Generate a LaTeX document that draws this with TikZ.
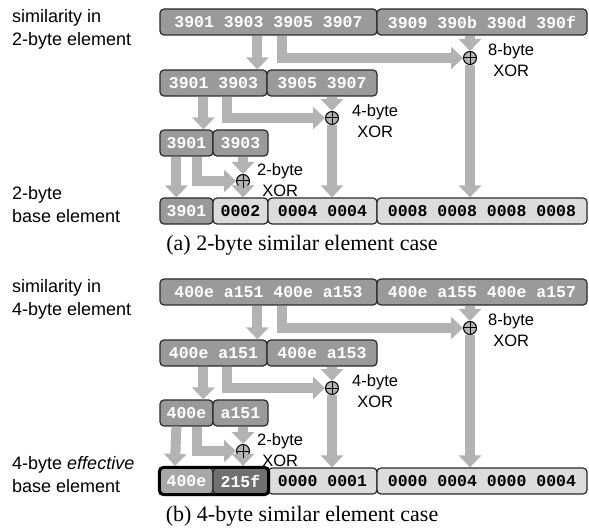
\documentclass[tikz,border=0pt]{standalone}
\usepackage{fontspec}
\setmainfont{Liberation Sans}
\newfontfamily\capfont{Liberation Serif}
\newfontfamily\boxfont{Liberation Mono}
\usetikzlibrary{arrows.meta,calc,fit}
\definecolor{boxgray}{HTML}{9A9A9A}
\definecolor{arrgray}{HTML}{B3B3B3}
\definecolor{lightbox}{HTML}{DCDCDC}
\definecolor{midbox}{HTML}{A8A8A8}
\definecolor{darkbox}{HTML}{707070}
\definecolor{edge}{HTML}{2A2A2A}
\tikzset{
 cell/.style={draw=edge, line width=1.2pt, rounded corners=4pt, inner sep=0pt, minimum height=26pt, font=\boxfont\bfseries\fontsize{16.5}{16.5}\selectfont},
 graycell/.style={cell, fill=boxgray, text=white},
 litecell/.style={cell, fill=lightbox, text=black},
 arr/.style={draw=arrgray, line width=10pt, -{Triangle[width=22pt,length=12pt]}, line join=miter},
 xorc/.style={circle, draw=black, fill=arrgray, line width=1pt, minimum size=13pt, inner sep=0pt},
 lbl/.style={align=left, anchor=west, font=\fontsize{18}{23}\selectfont, inner sep=0pt},
 xorlbl/.style={align=center, anchor=west, font=\fontsize{16.5}{21}\selectfont, inner sep=0pt},
 captext/.style={font=\capfont\fontsize{22}{22}\selectfont, inner sep=0pt}
}
\newcommand{\xcross}[1]{\draw[line width=1pt] (#1.north) -- (#1.south) (#1.west) -- (#1.east);}
\begin{document}
\begin{tikzpicture}[x=1pt,y=-1pt]
\useasboundingbox (0,0) rectangle (589,529);
% ---------- panel (a) ----------
\node[lbl] (la1) at (12,29.5) {similarity in\\2-byte element};
\node[lbl] (la2) at (12,205) {2-byte\\base element};
\node[graycell, minimum width=217pt] (a1L) at (268.5,22) {3901 3903 3905 3907};
\node[graycell, minimum width=210pt] (a1R) at (482,22) {3909 390b 390d 390f};
\node[graycell, minimum width=107pt] (a2L) at (213.5,83) {3901 3903};
\node[graycell, minimum width=110pt] (a2R) at (322,83) {3905 3907};
\node[graycell, minimum width=53pt] (a3L) at (186.5,143) {3901};
\node[graycell, minimum width=55pt] (a3R) at (240.5,143) {3903};
\node[graycell, minimum width=53pt] (a4A) at (186.5,211) {3901};
\node[litecell, minimum width=55pt] (a4B) at (240.5,211) {0002};
\node[litecell, minimum width=109pt] (a4C) at (322.5,211) {0004 0004};
\node[litecell, minimum width=210pt] (a4D) at (482,211) {0008 0008 0008 0008};
\node[xorc] (x8a) at (470,58) {};
\node[xorc] (x4a) at (332,118) {};
\node[xorc] (x2a) at (243,181) {};
\draw[arr] ([xshift=98pt]a1L.south west) -- ([xshift=98pt]a2L.north west);
\draw[arr] ([xshift=123pt]a1L.south west) |- (x8a.west);
\draw[arr] (x8a |- a1R.south) -- (x8a.north);
\draw[arr] (x8a.south) -- (x8a |- a4D.north);
\draw[arr] ([xshift=44pt]a2L.south west) -- ([xshift=44pt]a3L.north west);
\draw[arr] ([xshift=68pt]a2L.south west) |- (x4a.west);
\draw[arr] (x4a |- a2R.south) -- (x4a.north);
\draw[arr] (x4a.south) -- (x4a |- a4C.north);
\draw[arr] ([xshift=17pt]a3L.south west) -- ([xshift=17pt]a4A.north west);
\draw[arr] ([xshift=38pt]a3L.south west) |- (x2a.west);
\draw[arr] (x2a |- a3R.south) -- (x2a.north);
\draw[arr] (x2a.south) -- (x2a |- a4B.north);
\xcross{x8a}\xcross{x4a}\xcross{x2a}
\node[xorlbl] (t8a) at (488,60) {8-byte\\XOR};
\node[xorlbl] (t4a) at (352,121) {4-byte\\XOR};
\node[xorlbl] (t2a) at (257,180) {2-byte\\XOR};
\node[captext] (capa) at (302,245) {(a) 2-byte similar element case};
% ---------- panel (b) ----------
\node[lbl] (lb1) at (12,299.5) {similarity in\\4-byte element};
\node[lbl] (lb2) at (12,475) {4-byte \textit{effective}\\base element};
\node[graycell, minimum width=217pt] (b1L) at (268.5,292) {400e a151 400e a153};
\node[graycell, minimum width=210pt] (b1R) at (482,292) {400e a155 400e a157};
\node[graycell, minimum width=107pt] (b2L) at (213.5,353) {400e a151};
\node[graycell, minimum width=110pt] (b2R) at (322,353) {400e a153};
\node[graycell, minimum width=53pt] (b3L) at (186.5,413) {400e};
\node[graycell, minimum width=55pt] (b3R) at (240.5,413) {a151};
\node[cell, fill=midbox, text=white, minimum width=53pt] (b4A) at (186.5,481) {400e};
\node[cell, fill=darkbox, text=white, minimum width=55pt] (b4B) at (240.5,481) {215f};
\node[litecell, minimum width=109pt] (b4C) at (322.5,481) {0000 0001};
\node[litecell, minimum width=210pt] (b4D) at (482,481) {0000 0004 0000 0004};
\node[fit=(b4A)(b4B), draw=black, line width=3pt, rounded corners=4pt, inner sep=0pt] (b4F) {};
\node[xorc] (x8b) at (470,328) {};
\node[xorc] (x4b) at (332,388) {};
\node[xorc] (x2b) at (243,451) {};
\draw[arr] ([xshift=98pt]b1L.south west) -- ([xshift=98pt]b2L.north west);
\draw[arr] ([xshift=123pt]b1L.south west) |- (x8b.west);
\draw[arr] (x8b |- b1R.south) -- (x8b.north);
\draw[arr] (x8b.south) -- (x8b |- b4D.north);
\draw[arr] ([xshift=44pt]b2L.south west) -- ([xshift=44pt]b3L.north west);
\draw[arr] ([xshift=68pt]b2L.south west) |- (x4b.west);
\draw[arr] (x4b |- b2R.south) -- (x4b.north);
\draw[arr] (x4b.south) -- (x4b |- b4C.north);
\draw[arr] ([xshift=17pt]b3L.south west) -- ([xshift=17pt]b4F.north west);
\draw[arr] ([xshift=38pt]b3L.south west) |- (x2b.west);
\draw[arr] (x2b |- b3R.south) -- (x2b.north);
\draw[arr] (x2b.south) -- (x2b |- b4F.north);
\xcross{x8b}\xcross{x4b}\xcross{x2b}
\node[xorlbl] (t8b) at (488,330) {8-byte\\XOR};
\node[xorlbl] (t4b) at (352,391) {4-byte\\XOR};
\node[xorlbl] (t2b) at (257,450) {2-byte\\XOR};
\node[captext] (capb) at (302,516) {(b) 4-byte similar element case};
\end{tikzpicture}
\end{document}
